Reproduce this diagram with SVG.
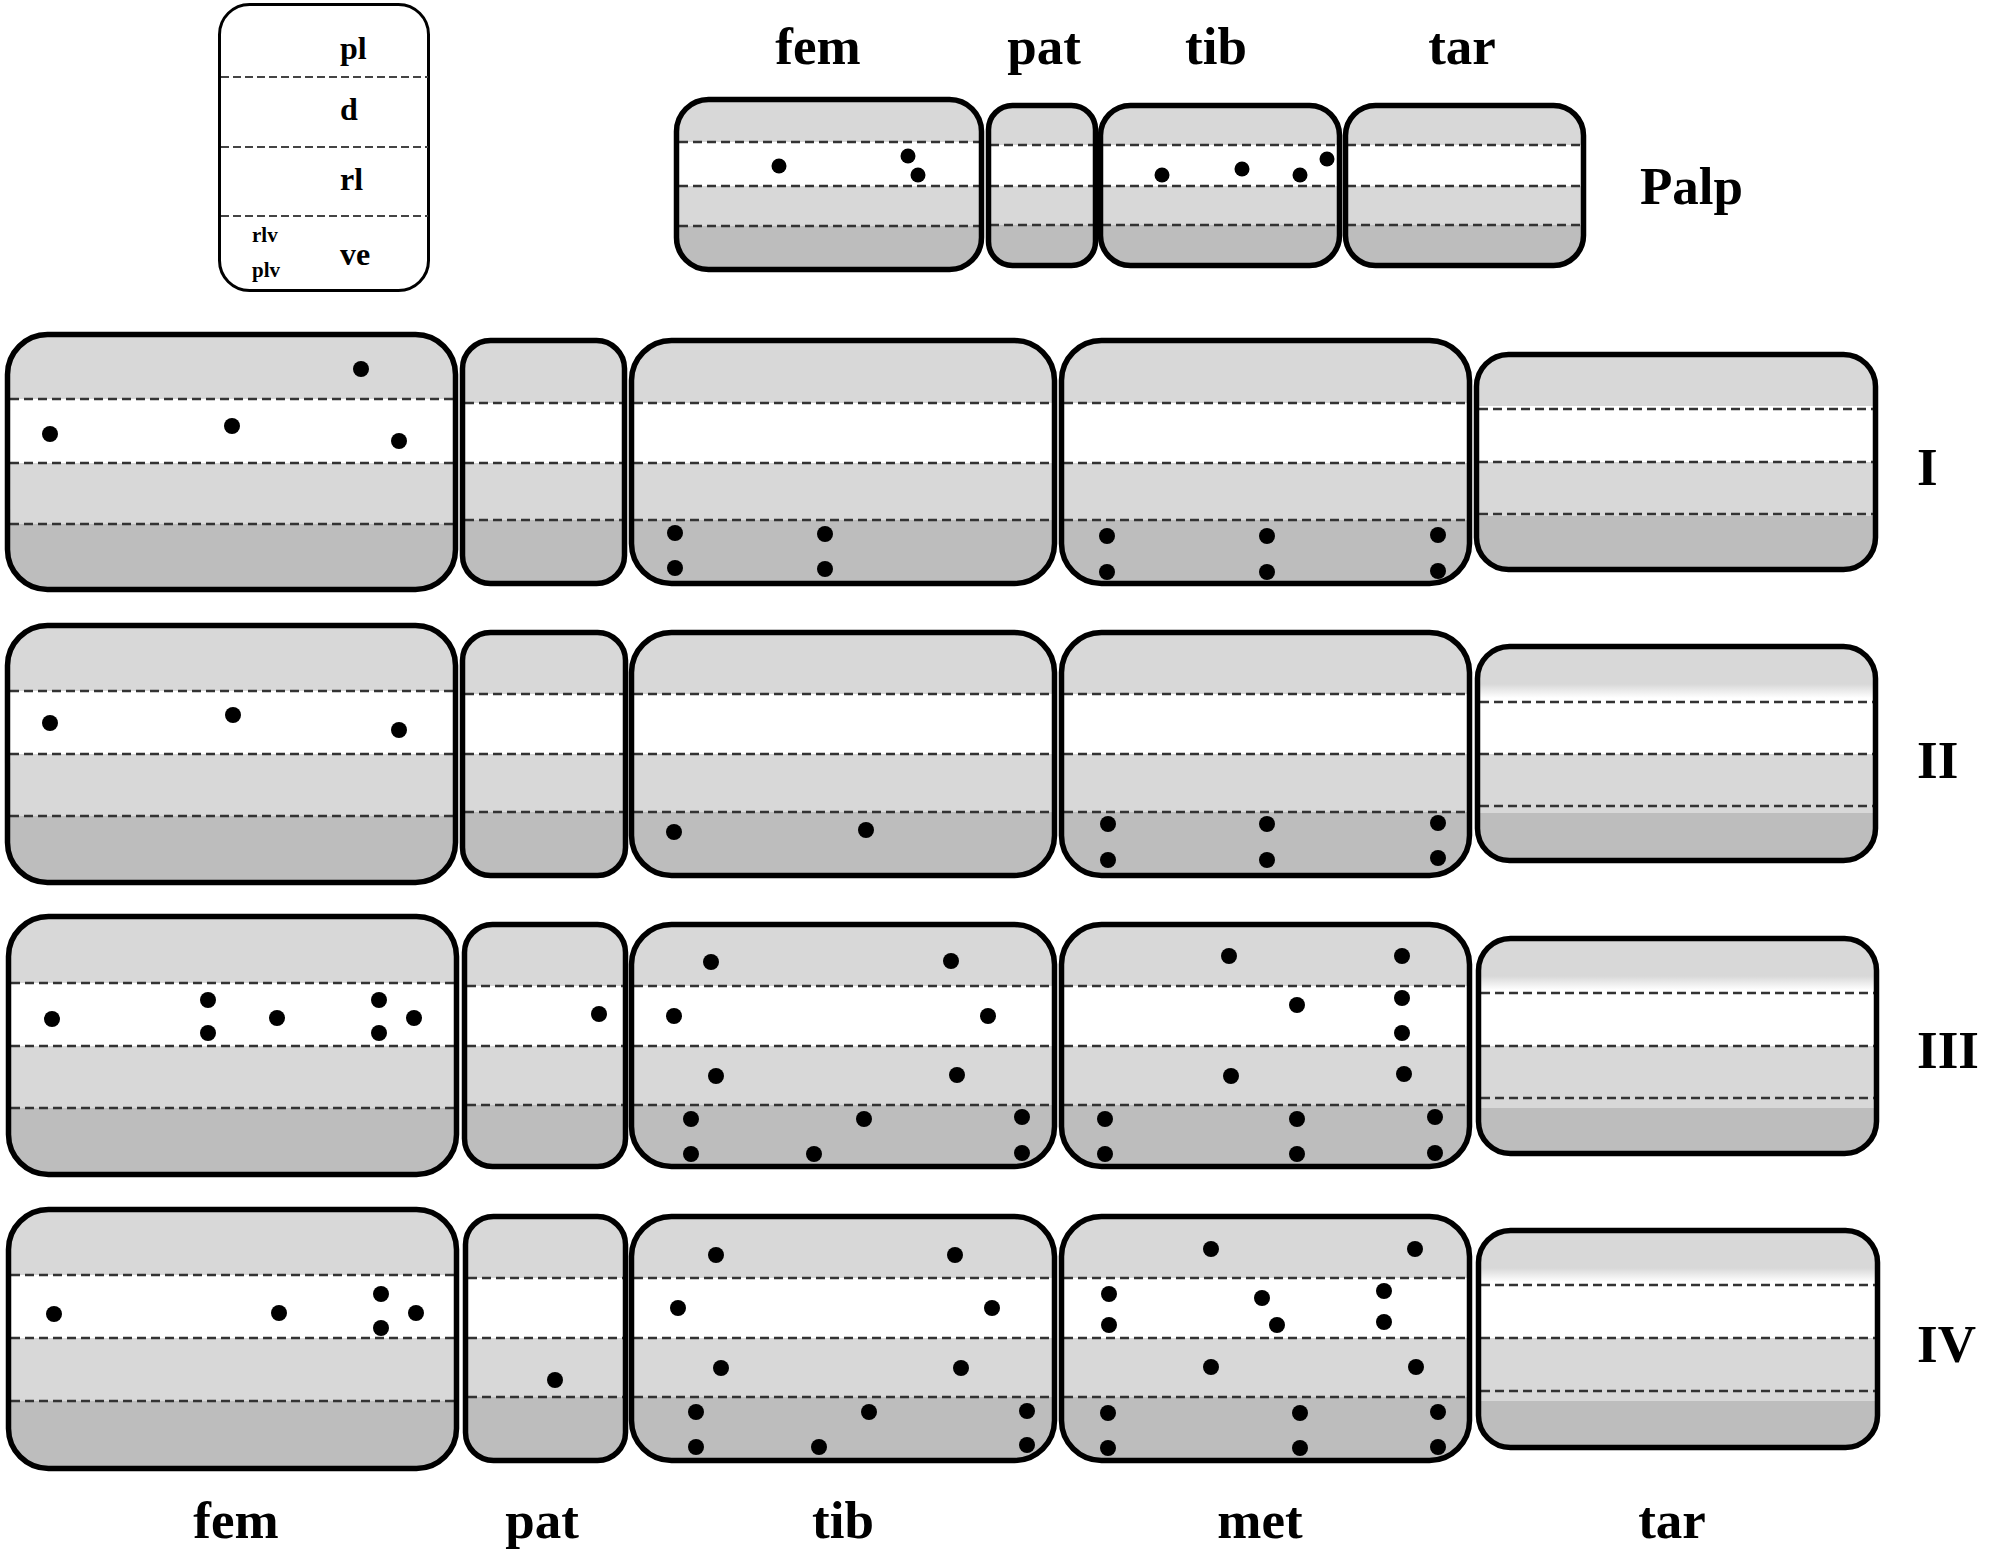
<svg xmlns="http://www.w3.org/2000/svg" width="1993" height="1560" viewBox="0 0 1993 1560">
<style>
.lg{fill:#d8d8d8}.wt{fill:#fff}.dk{fill:#bdbdbd}.fd{fill:url(#fade)}
.box{fill:none;stroke:#000;stroke-width:5.5}
.ds{fill:none;stroke:#333;stroke-width:2.5;stroke-dasharray:9 5}
.lds{fill:none;stroke:#444;stroke-width:2;stroke-dasharray:8 4}
.dot{fill:#000}
.lbl{font-family:"Liberation Serif","Times New Roman",serif;font-weight:bold;font-size:53px;fill:#000}
.lg1{font-family:"Liberation Serif","Times New Roman",serif;font-weight:bold;font-size:32px;fill:#000}
.lg2{font-family:"Liberation Serif","Times New Roman",serif;font-weight:bold;font-size:21px;fill:#000}
</style>
<defs>
<linearGradient id="fade" x1="0" y1="0" x2="0" y2="1"><stop offset="0" stop-color="#d8d8d8"/><stop offset="1" stop-color="#fff"/></linearGradient>
<clipPath id="c-pf"><rect x="676.5" y="99.5" width="305" height="170" rx="32"/></clipPath>
<clipPath id="c-pp"><rect x="988.5" y="105.5" width="107" height="160" rx="24"/></clipPath>
<clipPath id="c-pt"><rect x="1100.5" y="105.5" width="239" height="160" rx="30"/></clipPath>
<clipPath id="c-pr"><rect x="1345.5" y="105.5" width="238" height="160" rx="30"/></clipPath>
<clipPath id="c-1f"><rect x="7.5" y="334.5" width="448" height="255" rx="40"/></clipPath>
<clipPath id="c-1p"><rect x="462.5" y="340.5" width="162" height="243" rx="28"/></clipPath>
<clipPath id="c-1t"><rect x="631.5" y="340.5" width="423" height="243" rx="40"/></clipPath>
<clipPath id="c-1m"><rect x="1061.5" y="340.5" width="408" height="243" rx="40"/></clipPath>
<clipPath id="c-1r"><rect x="1476.5" y="354.5" width="399" height="215" rx="32"/></clipPath>
<clipPath id="c-2f"><rect x="7.5" y="625.5" width="448" height="257" rx="40"/></clipPath>
<clipPath id="c-2p"><rect x="462.5" y="632.5" width="163" height="243" rx="28"/></clipPath>
<clipPath id="c-2t"><rect x="631.5" y="632.5" width="423" height="243" rx="40"/></clipPath>
<clipPath id="c-2m"><rect x="1061.5" y="632.5" width="408" height="243" rx="40"/></clipPath>
<clipPath id="c-2r"><rect x="1477.5" y="646.5" width="398" height="214" rx="32"/></clipPath>
<clipPath id="c-3f"><rect x="8.5" y="916.5" width="448" height="258" rx="40"/></clipPath>
<clipPath id="c-3p"><rect x="464.5" y="924.5" width="161" height="242" rx="28"/></clipPath>
<clipPath id="c-3t"><rect x="631.5" y="924.5" width="423" height="242" rx="40"/></clipPath>
<clipPath id="c-3m"><rect x="1061.5" y="924.5" width="408" height="242" rx="40"/></clipPath>
<clipPath id="c-3r"><rect x="1478.5" y="938.5" width="398" height="215" rx="32"/></clipPath>
<clipPath id="c-4f"><rect x="8.5" y="1209.5" width="448" height="259" rx="40"/></clipPath>
<clipPath id="c-4p"><rect x="465.5" y="1216.5" width="160" height="244" rx="28"/></clipPath>
<clipPath id="c-4t"><rect x="631.5" y="1216.5" width="423" height="244" rx="40"/></clipPath>
<clipPath id="c-4m"><rect x="1061.5" y="1216.5" width="408" height="244" rx="40"/></clipPath>
<clipPath id="c-4r"><rect x="1478.5" y="1230.5" width="399" height="217" rx="32"/></clipPath>
</defs>
<rect width="1993" height="1560" fill="#fff"/>

<g id="legend">
<rect x="219.5" y="4.5" width="209" height="286" rx="30" fill="#fff" stroke="#000" stroke-width="3"/>
<path class="lds" d="M221 77H428M221 147H428M221 216H428"/>
<text class="lg1" x="340" y="59">pl</text>
<text class="lg1" x="340" y="120">d</text>
<text class="lg1" x="340" y="190">rl</text>
<text class="lg1" x="340" y="265">ve</text>
<text class="lg2" x="252" y="242">rlv</text>
<text class="lg2" x="252" y="277">plv</text>
</g>

<g id="palp-fem">
<g clip-path="url(#c-pf)"><rect class="lg" x="676" y="99" width="306" height="172"/><rect class="wt" x="676" y="142" width="306" height="44"/><rect class="dk" x="676" y="226" width="306" height="46"/></g>
<path class="ds" d="M679 142H980M679 186H980M679 226H980"/>
<rect class="box" x="676.5" y="99.5" width="305" height="170" rx="32"/>
<circle class="dot" cx="779" cy="166" r="7.5"/><circle class="dot" cx="908" cy="156" r="7.5"/><circle class="dot" cx="918" cy="175" r="7.5"/>
</g>
<g id="palp-pat">
<g clip-path="url(#c-pp)"><rect class="lg" x="988" y="105" width="108" height="162"/><rect class="wt" x="988" y="145" width="108" height="41"/><rect class="dk" x="988" y="225" width="108" height="44"/></g>
<path class="ds" d="M990 145H1094M990 186H1094M990 225H1094"/>
<rect class="box" x="988.5" y="105.5" width="107" height="160" rx="24"/>
</g>
<g id="palp-tib">
<g clip-path="url(#c-pt)"><rect class="lg" x="1100" y="105" width="240" height="162"/><rect class="wt" x="1100" y="145" width="240" height="41"/><rect class="dk" x="1100" y="225" width="240" height="44"/></g>
<path class="ds" d="M1102 145H1338M1102 186H1338M1102 225H1338"/>
<rect class="box" x="1100.5" y="105.5" width="239" height="160" rx="30"/>
<circle class="dot" cx="1162" cy="175" r="7.5"/><circle class="dot" cx="1242" cy="169" r="7.5"/><circle class="dot" cx="1300" cy="175" r="7.5"/><circle class="dot" cx="1327" cy="159" r="7.5"/>
</g>
<g id="palp-tar">
<g clip-path="url(#c-pr)"><rect class="lg" x="1345" y="105" width="239" height="162"/><rect class="wt" x="1345" y="145" width="239" height="41"/><rect class="dk" x="1345" y="225" width="239" height="44"/></g>
<path class="ds" d="M1347 145H1582M1347 186H1582M1347 225H1582"/>
<rect class="box" x="1345.5" y="105.5" width="238" height="160" rx="30"/>
</g>

<g id="I-fem">
<g clip-path="url(#c-1f)"><rect class="lg" x="7" y="334" width="449" height="257"/><rect class="wt" x="7" y="399" width="449" height="64"/><rect class="dk" x="7" y="524" width="449" height="67"/></g>
<path class="ds" d="M10 399H454M10 463H454M10 524H454"/>
<rect class="box" x="7.5" y="334.5" width="448" height="255" rx="40"/>
<circle class="dot" cx="50" cy="434" r="8"/><circle class="dot" cx="232" cy="426" r="8"/><circle class="dot" cx="361" cy="369" r="8"/><circle class="dot" cx="399" cy="441" r="8"/>
</g>
<g id="I-pat">
<g clip-path="url(#c-1p)"><rect class="lg" x="462" y="340" width="163" height="245"/><rect class="wt" x="462" y="403" width="163" height="60"/><rect class="dk" x="462" y="520" width="163" height="65"/></g>
<path class="ds" d="M465 403H623M465 463H623M465 520H623"/>
<rect class="box" x="462.5" y="340.5" width="162" height="243" rx="28"/>
</g>
<g id="I-tib">
<g clip-path="url(#c-1t)"><rect class="lg" x="631" y="340" width="424" height="245"/><rect class="wt" x="631" y="403" width="424" height="60"/><rect class="dk" x="631" y="520" width="424" height="65"/></g>
<path class="ds" d="M634 403H1053M634 463H1053M634 520H1053"/>
<rect class="box" x="631.5" y="340.5" width="423" height="243" rx="40"/>
<circle class="dot" cx="675" cy="533" r="8"/><circle class="dot" cx="675" cy="568" r="8"/><circle class="dot" cx="825" cy="534" r="8"/><circle class="dot" cx="825" cy="569" r="8"/>
</g>
<g id="I-met">
<g clip-path="url(#c-1m)"><rect class="lg" x="1061" y="340" width="409" height="245"/><rect class="wt" x="1061" y="403" width="409" height="60"/><rect class="dk" x="1061" y="520" width="409" height="65"/></g>
<path class="ds" d="M1064 403H1468M1064 463H1468M1064 520H1468"/>
<rect class="box" x="1061.5" y="340.5" width="408" height="243" rx="40"/>
<circle class="dot" cx="1107" cy="536" r="8"/><circle class="dot" cx="1107" cy="572" r="8"/><circle class="dot" cx="1267" cy="536" r="8"/><circle class="dot" cx="1267" cy="572" r="8"/><circle class="dot" cx="1438" cy="535" r="8"/><circle class="dot" cx="1438" cy="571" r="8"/>
</g>
<g id="I-tar">
<g clip-path="url(#c-1r)"><rect class="lg" x="1476" y="354" width="400" height="217"/><rect class="wt" x="1476" y="406" width="400" height="56"/><rect class="dk" x="1476" y="516" width="400" height="55"/></g>
<path class="ds" d="M1479 409H1874M1479 462H1874M1479 514H1874"/>
<rect class="box" x="1476.5" y="354.5" width="399" height="215" rx="32"/>
</g>

<g id="II-fem">
<g clip-path="url(#c-2f)"><rect class="lg" x="7" y="625" width="449" height="259"/><rect class="wt" x="7" y="691" width="449" height="63"/><rect class="dk" x="7" y="816" width="449" height="68"/></g>
<path class="ds" d="M10 691H454M10 754H454M10 816H454"/>
<rect class="box" x="7.5" y="625.5" width="448" height="257" rx="40"/>
<circle class="dot" cx="50" cy="723" r="8"/><circle class="dot" cx="233" cy="715" r="8"/><circle class="dot" cx="399" cy="730" r="8"/>
</g>
<g id="II-pat">
<g clip-path="url(#c-2p)"><rect class="lg" x="462" y="632" width="164" height="245"/><rect class="wt" x="462" y="694" width="164" height="60"/><rect class="dk" x="462" y="812" width="164" height="65"/></g>
<path class="ds" d="M465 694H624M465 754H624M465 812H624"/>
<rect class="box" x="462.5" y="632.5" width="163" height="243" rx="28"/>
</g>
<g id="II-tib">
<g clip-path="url(#c-2t)"><rect class="lg" x="631" y="632" width="424" height="245"/><rect class="wt" x="631" y="694" width="424" height="60"/><rect class="dk" x="631" y="812" width="424" height="65"/></g>
<path class="ds" d="M634 694H1053M634 754H1053M634 812H1053"/>
<rect class="box" x="631.5" y="632.5" width="423" height="243" rx="40"/>
<circle class="dot" cx="674" cy="832" r="8"/><circle class="dot" cx="866" cy="830" r="8"/>
</g>
<g id="II-met">
<g clip-path="url(#c-2m)"><rect class="lg" x="1061" y="632" width="409" height="245"/><rect class="wt" x="1061" y="694" width="409" height="60"/><rect class="dk" x="1061" y="812" width="409" height="65"/></g>
<path class="ds" d="M1064 694H1468M1064 754H1468M1064 812H1468"/>
<rect class="box" x="1061.5" y="632.5" width="408" height="243" rx="40"/>
<circle class="dot" cx="1108" cy="824" r="8"/><circle class="dot" cx="1108" cy="860" r="8"/><circle class="dot" cx="1267" cy="824" r="8"/><circle class="dot" cx="1267" cy="860" r="8"/><circle class="dot" cx="1438" cy="823" r="8"/><circle class="dot" cx="1438" cy="858" r="8"/>
</g>
<g id="II-tar">
<g clip-path="url(#c-2r)"><rect class="lg" x="1477" y="646" width="399" height="216"/><rect class="fd" x="1477" y="684" width="399" height="14"/><rect class="wt" x="1477" y="698" width="399" height="56"/><rect class="dk" x="1477" y="813" width="399" height="49"/></g>
<path class="ds" d="M1480 702H1874M1480 754H1874M1480 806H1874"/>
<rect class="box" x="1477.5" y="646.5" width="398" height="214" rx="32"/>
</g>

<g id="III-fem">
<g clip-path="url(#c-3f)"><rect class="lg" x="8" y="916" width="449" height="260"/><rect class="wt" x="8" y="983" width="449" height="63"/><rect class="dk" x="8" y="1108" width="449" height="68"/></g>
<path class="ds" d="M11 983H455M11 1046H455M11 1108H455"/>
<rect class="box" x="8.5" y="916.5" width="448" height="258" rx="40"/>
<circle class="dot" cx="52" cy="1019" r="8"/><circle class="dot" cx="208" cy="1000" r="8"/><circle class="dot" cx="208" cy="1033" r="8"/><circle class="dot" cx="277" cy="1018" r="8"/><circle class="dot" cx="379" cy="1000" r="8"/><circle class="dot" cx="379" cy="1033" r="8"/><circle class="dot" cx="414" cy="1018" r="8"/>
</g>
<g id="III-pat">
<g clip-path="url(#c-3p)"><rect class="lg" x="464" y="924" width="162" height="244"/><rect class="wt" x="464" y="986" width="162" height="60"/><rect class="dk" x="464" y="1105" width="162" height="63"/></g>
<path class="ds" d="M467 986H624M467 1046H624M467 1105H624"/>
<rect class="box" x="464.5" y="924.5" width="161" height="242" rx="28"/>
<circle class="dot" cx="599" cy="1014" r="8"/>
</g>
<g id="III-tib">
<g clip-path="url(#c-3t)"><rect class="lg" x="631" y="924" width="424" height="244"/><rect class="wt" x="631" y="986" width="424" height="60"/><rect class="dk" x="631" y="1105" width="424" height="63"/></g>
<path class="ds" d="M634 986H1053M634 1046H1053M634 1105H1053"/>
<rect class="box" x="631.5" y="924.5" width="423" height="242" rx="40"/>
<circle class="dot" cx="711" cy="962" r="8"/><circle class="dot" cx="951" cy="961" r="8"/><circle class="dot" cx="674" cy="1016" r="8"/><circle class="dot" cx="988" cy="1016" r="8"/><circle class="dot" cx="716" cy="1076" r="8"/><circle class="dot" cx="957" cy="1075" r="8"/><circle class="dot" cx="691" cy="1119" r="8"/><circle class="dot" cx="864" cy="1119" r="8"/><circle class="dot" cx="1022" cy="1117" r="8"/><circle class="dot" cx="691" cy="1154" r="8"/><circle class="dot" cx="814" cy="1154" r="8"/><circle class="dot" cx="1022" cy="1153" r="8"/>
</g>
<g id="III-met">
<g clip-path="url(#c-3m)"><rect class="lg" x="1061" y="924" width="409" height="244"/><rect class="wt" x="1061" y="986" width="409" height="60"/><rect class="dk" x="1061" y="1105" width="409" height="63"/></g>
<path class="ds" d="M1064 986H1468M1064 1046H1468M1064 1105H1468"/>
<rect class="box" x="1061.5" y="924.5" width="408" height="242" rx="40"/>
<circle class="dot" cx="1229" cy="956" r="8"/><circle class="dot" cx="1402" cy="956" r="8"/><circle class="dot" cx="1297" cy="1005" r="8"/><circle class="dot" cx="1402" cy="998" r="8"/><circle class="dot" cx="1402" cy="1033" r="8"/><circle class="dot" cx="1231" cy="1076" r="8"/><circle class="dot" cx="1404" cy="1074" r="8"/><circle class="dot" cx="1105" cy="1119" r="8"/><circle class="dot" cx="1297" cy="1119" r="8"/><circle class="dot" cx="1435" cy="1117" r="8"/><circle class="dot" cx="1105" cy="1154" r="8"/><circle class="dot" cx="1297" cy="1154" r="8"/><circle class="dot" cx="1435" cy="1153" r="8"/>
</g>
<g id="III-tar">
<g clip-path="url(#c-3r)"><rect class="lg" x="1478" y="938" width="399" height="217"/><rect class="fd" x="1478" y="976" width="399" height="14"/><rect class="wt" x="1478" y="990" width="399" height="56"/><rect class="dk" x="1478" y="1108" width="399" height="47"/></g>
<path class="ds" d="M1481 993H1875M1481 1046H1875M1481 1098H1875"/>
<rect class="box" x="1478.5" y="938.5" width="398" height="215" rx="32"/>
</g>

<g id="IV-fem">
<g clip-path="url(#c-4f)"><rect class="lg" x="8" y="1209" width="449" height="261"/><rect class="wt" x="8" y="1275" width="449" height="63"/><rect class="dk" x="8" y="1401" width="449" height="69"/></g>
<path class="ds" d="M11 1275H455M11 1338H455M11 1401H455"/>
<rect class="box" x="8.5" y="1209.5" width="448" height="259" rx="40"/>
<circle class="dot" cx="54" cy="1314" r="8"/><circle class="dot" cx="279" cy="1313" r="8"/><circle class="dot" cx="381" cy="1294" r="8"/><circle class="dot" cx="381" cy="1328" r="8"/><circle class="dot" cx="416" cy="1313" r="8"/>
</g>
<g id="IV-pat">
<g clip-path="url(#c-4p)"><rect class="lg" x="465" y="1216" width="161" height="246"/><rect class="wt" x="465" y="1278" width="161" height="60"/><rect class="dk" x="465" y="1397" width="161" height="65"/></g>
<path class="ds" d="M468 1278H624M468 1338H624M468 1397H624"/>
<rect class="box" x="465.5" y="1216.5" width="160" height="244" rx="28"/>
<circle class="dot" cx="555" cy="1380" r="8"/>
</g>
<g id="IV-tib">
<g clip-path="url(#c-4t)"><rect class="lg" x="631" y="1216" width="424" height="246"/><rect class="wt" x="631" y="1278" width="424" height="60"/><rect class="dk" x="631" y="1397" width="424" height="65"/></g>
<path class="ds" d="M634 1278H1053M634 1338H1053M634 1397H1053"/>
<rect class="box" x="631.5" y="1216.5" width="423" height="244" rx="40"/>
<circle class="dot" cx="716" cy="1255" r="8"/><circle class="dot" cx="955" cy="1255" r="8"/><circle class="dot" cx="678" cy="1308" r="8"/><circle class="dot" cx="992" cy="1308" r="8"/><circle class="dot" cx="721" cy="1368" r="8"/><circle class="dot" cx="961" cy="1368" r="8"/><circle class="dot" cx="696" cy="1412" r="8"/><circle class="dot" cx="869" cy="1412" r="8"/><circle class="dot" cx="1027" cy="1411" r="8"/><circle class="dot" cx="696" cy="1447" r="8"/><circle class="dot" cx="819" cy="1447" r="8"/><circle class="dot" cx="1027" cy="1445" r="8"/>
</g>
<g id="IV-met">
<g clip-path="url(#c-4m)"><rect class="lg" x="1061" y="1216" width="409" height="246"/><rect class="wt" x="1061" y="1278" width="409" height="60"/><rect class="dk" x="1061" y="1397" width="409" height="65"/></g>
<path class="ds" d="M1064 1278H1468M1064 1338H1468M1064 1397H1468"/>
<rect class="box" x="1061.5" y="1216.5" width="408" height="244" rx="40"/>
<circle class="dot" cx="1211" cy="1249" r="8"/><circle class="dot" cx="1415" cy="1249" r="8"/><circle class="dot" cx="1109" cy="1294" r="8"/><circle class="dot" cx="1262" cy="1298" r="8"/><circle class="dot" cx="1384" cy="1291" r="8"/><circle class="dot" cx="1109" cy="1325" r="8"/><circle class="dot" cx="1277" cy="1325" r="8"/><circle class="dot" cx="1384" cy="1322" r="8"/><circle class="dot" cx="1211" cy="1367" r="8"/><circle class="dot" cx="1416" cy="1367" r="8"/><circle class="dot" cx="1108" cy="1413" r="8"/><circle class="dot" cx="1300" cy="1413" r="8"/><circle class="dot" cx="1438" cy="1412" r="8"/><circle class="dot" cx="1108" cy="1448" r="8"/><circle class="dot" cx="1300" cy="1448" r="8"/><circle class="dot" cx="1438" cy="1447" r="8"/>
</g>
<g id="IV-tar">
<g clip-path="url(#c-4r)"><rect class="lg" x="1478" y="1230" width="400" height="219"/><rect class="fd" x="1478" y="1268" width="400" height="14"/><rect class="wt" x="1478" y="1282" width="400" height="56"/><rect class="dk" x="1478" y="1401" width="400" height="48"/></g>
<path class="ds" d="M1481 1285H1876M1481 1338H1876M1481 1391H1876"/>
<rect class="box" x="1478.5" y="1230.5" width="399" height="217" rx="32"/>
</g>

<g id="connectors"/>

<g id="labels">
<text class="lbl" x="818" y="64" text-anchor="middle">fem</text>
<text class="lbl" x="1044" y="64" text-anchor="middle">pat</text>
<text class="lbl" x="1216" y="64" text-anchor="middle">tib</text>
<text class="lbl" x="1462" y="64" text-anchor="middle">tar</text>
<text class="lbl" x="1640" y="204">Palp</text>
<text class="lbl" x="1917" y="485">I</text>
<text class="lbl" x="1917" y="778">II</text>
<text class="lbl" x="1917" y="1068">III</text>
<text class="lbl" x="1917" y="1362">IV</text>
<text class="lbl" x="236" y="1538" text-anchor="middle">fem</text>
<text class="lbl" x="542" y="1538" text-anchor="middle">pat</text>
<text class="lbl" x="843" y="1538" text-anchor="middle">tib</text>
<text class="lbl" x="1260" y="1538" text-anchor="middle">met</text>
<text class="lbl" x="1672" y="1538" text-anchor="middle">tar</text>
</g>
</svg>
